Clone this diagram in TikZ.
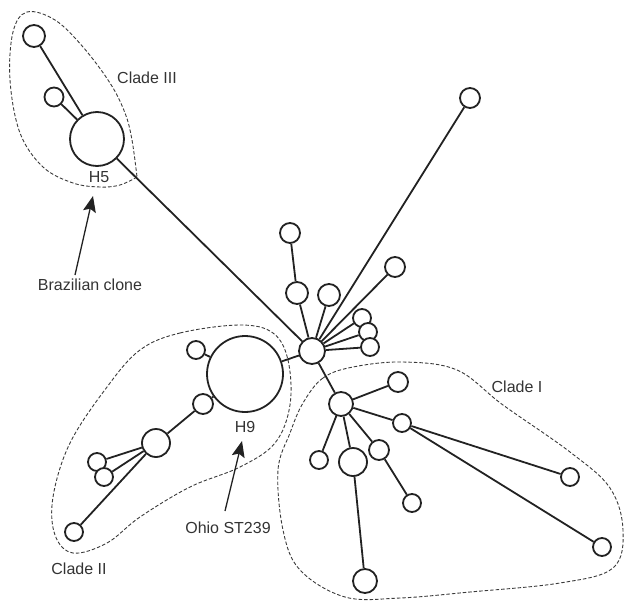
\documentclass[tikz,border=0pt]{standalone}
\usepackage{fontspec}
\setmainfont{Liberation Sans}
\usetikzlibrary{arrows.meta}
\definecolor{ink}{HTML}{222222}
\definecolor{txt}{HTML}{333333}
\definecolor{dashc}{HTML}{3A3A3A}
\tikzset{
  hap/.style={circle, draw=ink, line width=1.8pt, fill=white, inner sep=0pt, minimum size=#1},
  link/.style={draw=ink, line width=1.8pt},
  clade/.style={draw=dashc, line width=0.9pt, dash pattern=on 3.5pt off 2pt},
  lab/.style={text=txt, font=\fontsize{16}{18}\selectfont, inner sep=0pt},
  pointer/.style={draw=ink, line width=1.3pt, -{Stealth[length=16pt, width=13pt, inset=3pt]}}
}
\begin{document}
\begin{tikzpicture}[x=1pt, y=-1pt]
\useasboundingbox (0,0) rectangle (624,600);
% clade outlines
\draw[clade] plot[smooth, tension=0.6] coordinates {(137,177) (120,185) (100,187) (73,183) (43,167) (20,133) (10,80) (13,32) (27,12) (55,20) (83,47) (110,83) (125,113) (132,140) (137,177)};
\draw[clade] plot[smooth cycle, tension=0.6] coordinates {(140,350) (180,333) (240,325) (273,333) (288,360) (290,405) (275,443) (240,467) (190,487) (140,517) (107,543) (73,553) (55,535) (53,497) (70,443) (107,387)};
\draw[clade] plot[smooth cycle, tension=0.6] coordinates {(303,403) (323,378) (353,367) (403,362) (457,370) (503,405) (570,452) (610,488) (623,530) (613,568) (560,583) (470,592) (400,598) (345,597) (300,570) (283,530) (278,470) (290,433)};
% nodes
\node[hap=26pt] (hub) at (312,351) {};
\node[hap=22pt] (t1) at (34,36) {};
\node[hap=19pt] (t2) at (54,97) {};
\node[hap=54pt] (h5) at (97,139) {};
\node[hap=20pt] (tr) at (470,98) {};
\node[hap=20pt] (a1) at (290,233) {};
\node[hap=22pt] (a2) at (297,293) {};
\node[hap=22pt] (a3) at (329,295) {};
\node[hap=20pt] (a4) at (395,267) {};
\node[hap=18pt] (c1) at (362,318) {};
\node[hap=18pt] (c2) at (368,332) {};
\node[hap=18pt] (c3) at (370,347) {};
\node[hap=76pt] (h9) at (245,374) {};
\node[hap=18pt] (b1) at (196,350) {};
\node[hap=20pt] (b2) at (203,404) {};
\node[hap=28pt] (b3) at (156,443) {};
\node[hap=18pt] (b4) at (97,462) {};
\node[hap=18pt] (b5) at (104,477) {};
\node[hap=18pt] (b6) at (74,532) {};
\node[hap=24pt] (m) at (341,404) {};
\node[hap=20pt] (d1) at (398,382) {};
\node[hap=18pt] (d2) at (402,423) {};
\node[hap=18pt] (d3) at (319,460) {};
\node[hap=28pt] (d4) at (353,462) {};
\node[hap=20pt] (d5) at (379,450) {};
\node[hap=18pt] (d6) at (412,503) {};
\node[hap=18pt] (d7) at (570,477) {};
\node[hap=18pt] (d8) at (602,547) {};
\node[hap=24pt] (d9) at (365,581) {};
% links
\path[link] (t1) -- (h5);
\path[link] (t2) -- (h5);
\path[link] (h5) -- (hub);
\path[link] (tr) -- (hub);
\path[link] (a1) -- (a2);
\path[link] (a2) -- (hub);
\path[link] (a3) -- (hub);
\path[link] (a4) -- (hub);
\path[link] (c1) -- (hub);
\path[link] (c2) -- (hub);
\path[link] (c3) -- (hub);
\path[link] (h9) -- (hub);
\path[link] (b1) -- (h9);
\path[link] (b2) -- (h9);
\path[link] (b2) -- (b3);
\path[link] (b3) -- (b4);
\path[link] (b3) -- (b5);
\path[link] (b3) -- (b6);
\path[link] (hub) -- (m);
\path[link] (m) -- (d1);
\path[link] (m) -- (d2);
\path[link] (m) -- (d3);
\path[link] (m) -- (d4);
\path[link] (m) -- (d5);
\path[link] (d5) -- (d6);
\path[link] (d2) -- (d7);
\path[link] (d2) -- (d8);
\path[link] (d4) -- (d9);
% labels
\node[lab] (l3) at (147,78) {Clade III};
\node[lab] (lh5) at (99,177) {H5};
\node[lab] (lbc) at (90,285) {Brazilian clone};
\node[lab] (lh9) at (245,427) {H9};
\node[lab] (lohio) at (228,528) {Ohio ST239};
\node[lab] (l2) at (79,569) {Clade II};
\node[lab] (l1) at (517,387) {Clade I};
% pointers
\coordinate (bctail) at (75,275);
\coordinate (bctip) at (93,196);
\coordinate (ohtail) at (225,511);
\coordinate (ohtip) at (242,441);
\draw[pointer] (bctail) -- (bctip);
\draw[pointer] (ohtail) -- (ohtip);
\end{tikzpicture}
\end{document}
